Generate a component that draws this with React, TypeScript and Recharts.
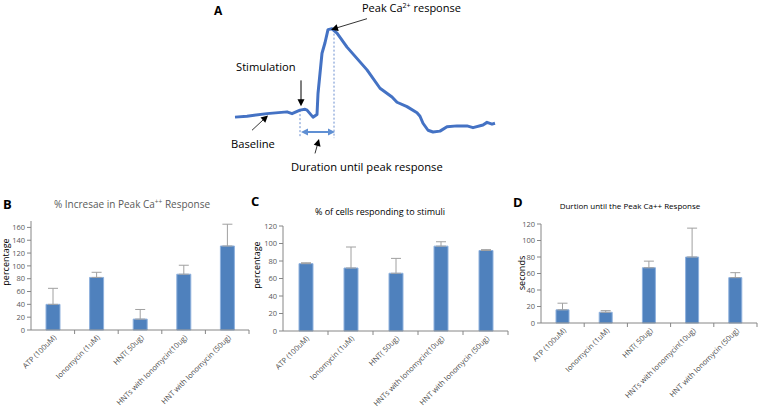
import React from 'react';
import { LineChart, Line, XAxis, YAxis, ReferenceLine, BarChart, Bar, ErrorBar } from 'recharts';

const FONT = '"Open Sans", "Noto Sans", sans-serif';

// ---------- Panel A: representative calcium trace ----------
const traceTime = [0, 12, 32, 52, 57, 65, 70, 72, 78, 82, 83, 87, 90, 93, 97, 102, 112, 132, 145, 157, 162, 172, 182, 185, 188, 193, 198, 205, 212, 222, 232, 238, 248, 252, 257, 260];
const traceRatio = [0.99, 1.0, 1.03, 1.05, 1.03, 1.07, 1.08, 1.07, 0.99, 1.02, 1.26, 1.72, 1.84, 1.99, 2.0, 1.95, 1.79, 1.53, 1.32, 1.22, 1.16, 1.11, 1.04, 1.0, 0.92, 0.84, 0.82, 0.83, 0.88, 0.89, 0.89, 0.87, 0.9, 0.93, 0.91, 0.92];
const stimTime = 65;
const peakTime = 99;

// ---------- Panels B-D ----------
const categories = ['ATP (100uM)', 'Ionomycin (1uM)', 'HNT( 50ug)', 'HNTs with Ionomycin(10ug)', 'HNT with Ionomycin (50ug)'];
const peakIncrease = [40, 82, 17, 87, 131];
const peakIncreaseErrTop = [65, 90, 32, 101, 165];
const respondingCells = [77, 72, 66, 97, 92];
const respondingCellsErrTop = [78, 96, 83, 102, 93];
const durationToPeak = [16, 13, 67, 80, 55];
const durationToPeakErrTop = [24, 15, 75, 115, 61];
const ticksB = [0, 20, 40, 60, 80, 100, 120, 140, 160];
const ticksCD = [0, 20, 40, 60, 80, 100, 120];

const traceData = traceTime.map((t, i) => ({ t, v: traceRatio[i] }));

const BLUE = '#4472C4';
const AXIS = '#868686';
const TICKTXT = '#595959';

function makeArrow(color: string, sw: number, both: boolean, dash?: string) {
  return (props: any) => {
    const { x1, y1, x2, y2 } = props;
    const ang = Math.atan2(y2 - y1, x2 - x1);
    const L = 7, W = 3.5;
    const head = (tx: number, ty: number, a: number) => {
      const bx = tx - L * Math.cos(a), by = ty - L * Math.sin(a);
      const px = -Math.sin(a) * W, py = Math.cos(a) * W;
      return `${tx},${ty} ${bx + px},${by + py} ${bx - px},${by - py}`;
    };
    const sx = both ? x1 + (L - 1) * Math.cos(ang) : x1;
    const sy = both ? y1 + (L - 1) * Math.sin(ang) : y1;
    const ex = x2 - (L - 1) * Math.cos(ang);
    const ey = y2 - (L - 1) * Math.sin(ang);
    return (
      <g>
        <line x1={sx} y1={sy} x2={ex} y2={ey} stroke={color} strokeWidth={sw} strokeDasharray={dash} />
        <polygon points={head(x2, y2, ang)} fill={color} />
        {both && <polygon points={head(x1, y1, ang + Math.PI)} fill={color} />}
      </g>
    );
  };
}

const dashedShape = (props: any) => {
  const { x1, y1, x2, y2 } = props;
  return <line x1={x1} y1={y1} x2={x2} y2={y2} stroke={BLUE} strokeWidth={0.8} strokeDasharray="2 2" />;
};

function PanelA() {
  return (
    <LineChart width={758} height={190} data={traceData} margin={{ top: 20, right: 263, bottom: 30, left: 235 }}>
      <XAxis dataKey="t" type="number" domain={[0, 260]} hide />
      <YAxis type="number" domain={[0.5, 2.1]} hide />
      <ReferenceLine ifOverflow="visible" segment={[{ x: stimTime, y: 1.07 }, { x: stimTime, y: 0.75 }]} shape={dashedShape} />
      <ReferenceLine ifOverflow="visible" segment={[{ x: peakTime, y: 1.99 }, { x: peakTime, y: 0.75 }]} shape={dashedShape} />
      <Line dataKey="v" stroke={BLUE} strokeWidth={3} dot={false} type="linear" isAnimationActive={false} strokeLinejoin="round" />
      <ReferenceLine ifOverflow="visible" segment={[{ x: stimTime + 1, y: 0.82 }, { x: peakTime + 1, y: 0.82 }]} shape={makeArrow('#5f8fd3', 2, true)} />
      <ReferenceLine ifOverflow="visible" segment={[{ x: stimTime + 1, y: 1.41 }, { x: stimTime + 1, y: 1.115 }]} shape={makeArrow('#000', 1, false)} />
      <ReferenceLine ifOverflow="visible" segment={[{ x: 132, y: 2.115 }, { x: 96, y: 1.99 }]} shape={makeArrow('#000', 0.8, false)} />
      <ReferenceLine ifOverflow="visible" segment={[{ x: 17, y: 0.84 }, { x: 33, y: 1.01 }]} shape={makeArrow('#000', 0.8, false)} />
      <ReferenceLine ifOverflow="visible" segment={[{ x: 80, y: 0.575 }, { x: 84, y: 0.74 }]} shape={makeArrow('#000', 0.8, false)} />
    </LineChart>
  );
}

const CatTick = (props: any) => {
  const { x, y, payload, band } = props;
  const half = payload && payload.offset ? payload.offset : band / 2;
  return (
    <g>
      <line x1={x + half} y1={y} x2={x + half} y2={y + 4} stroke={AXIS} strokeWidth={1} />
      <text
        x={x + 4}
        y={y + 8}
        transform={`rotate(-45, ${x + 4}, ${y + 8})`}
        textAnchor="end"
        fontSize={7.5}
        fill="#4a4a4a"
        opacity={0.99}
        fontFamily={FONT}
      >
        {payload.value}
      </text>
    </g>
  );
};

type PanelProps = {
  values: number[];
  errTop: number[];
  yMax: number;
  ticks: number[];
  width: number;
  height: number;
  top: number;
  right: number;
  xAxisHeight: number;
  barSize: number;
};

function BarPanel({ values, errTop, yMax, ticks, width, height, top, right, xAxisHeight, barSize }: PanelProps) {
  const data = categories.map((c, i) => ({ name: c, value: values[i], err: [0, errTop[i] - values[i]] }));
  const band = (width - 31 - right) / categories.length;
  return (
    <BarChart width={width} height={height} data={data} margin={{ top, right, bottom: 0, left: 0 }} barCategoryGap={0}>
      <YAxis
        width={31}
        domain={[0, yMax]}
        ticks={ticks}
        interval={0}
        tick={{ fontSize: 7.5, fill: TICKTXT, fontFamily: FONT }}
        tickSize={4}
        tickMargin={2}
        axisLine={{ stroke: AXIS }}
        tickLine={{ stroke: AXIS }}
      />
      <XAxis
        dataKey="name"
        height={xAxisHeight}
        interval={0}
        tickLine={false}
        tickSize={0}
        tickMargin={0}
        axisLine={{ stroke: AXIS }}
        tick={<CatTick band={band} />}
      />
      <Bar dataKey="value" fill="#4F81BD" stroke="#8fb1dd" strokeWidth={1} barSize={barSize} isAnimationActive={false}>
        <ErrorBar dataKey="err" direction="y" width={5} stroke="#a0a0a0" strokeWidth={1} />
      </Bar>
    </BarChart>
  );
}

export default function App() {
  const abs = (left: number, top: number): React.CSSProperties => ({ position: 'absolute', left, top });
  return (
    <div style={{ position: 'absolute', left: 0, top: 0, width: 758, height: 412, background: '#fff', overflow: 'hidden', fontFamily: FONT }}>
      <div style={abs(0, 0)}>
        <PanelA />
      </div>
      <div style={abs(0, 190)}>
        <BarPanel values={peakIncrease} errTop={peakIncreaseErrTop} yMax={170} ticks={ticksB} width={252} height={222} top={31} right={3} xAxisHeight={82} barSize={14} />
      </div>
      <div style={abs(252, 190)}>
        <BarPanel values={respondingCells} errTop={respondingCellsErrTop} yMax={120} ticks={ticksCD} width={258} height={222} top={36} right={2} xAxisHeight={81} barSize={14} />
      </div>
      <div style={abs(510, 190)}>
        <BarPanel values={durationToPeak} errTop={durationToPeakErrTop} yMax={120} ticks={ticksCD} width={248} height={222} top={34} right={1} xAxisHeight={89} barSize={13} />
      </div>
      <svg width={758} height={412} style={{ position: 'absolute', left: 0, top: 0, pointerEvents: 'none' }} fontFamily={FONT}>
        <text x={214} y={15} fontSize={12} fontWeight="bold" fill="#000">A</text>
        <text x={362} y={12} fontSize={11} fill="#000">
          Peak Ca<tspan dy={-4} fontSize={7}>2+</tspan><tspan dy={4}> response</tspan>
        </text>
        <text x={236} y={71} fontSize={11.2} fill="#000">Stimulation</text>
        <text x={231} y={148} fontSize={11.2} fill="#000">Baseline</text>
        <text x={291} y={171} fontSize={11.2} fill="#000">Duration until peak response</text>

        <text x={3} y={209} fontSize={13} fontWeight="bold" fill="#000">B</text>
        <text x={132} y={208} fontSize={10} fill={TICKTXT} textAnchor="middle">
          % Incresae in Peak Ca<tspan dy={-4} fontSize={6.5}>++</tspan><tspan dy={4}> Response</tspan>
        </text>
        <text x={9} y={262} fontSize={9} fill="#000" textAnchor="middle" transform="rotate(-90, 9, 262)">percentage</text>

        <text x={251} y={206} fontSize={13} fontWeight="bold" fill="#000">C</text>
        <text x={380} y={215} fontSize={9} fill="#000" textAnchor="middle">% of cells responding to stimuli</text>
        <text x={260} y={265} fontSize={9} fill="#000" textAnchor="middle" transform="rotate(-90, 260, 265)">percentage</text>

        <text x={513} y={207} fontSize={13} fontWeight="bold" fill="#000">D</text>
        <text x={630} y={209} fontSize={8} fill="#000" textAnchor="middle">Durtion until the Peak Ca++ Response</text>
        <text x={525} y={273} fontSize={9} fill="#000" textAnchor="middle" transform="rotate(-90, 525, 273)">seconds</text>
      </svg>
    </div>
  );
}
